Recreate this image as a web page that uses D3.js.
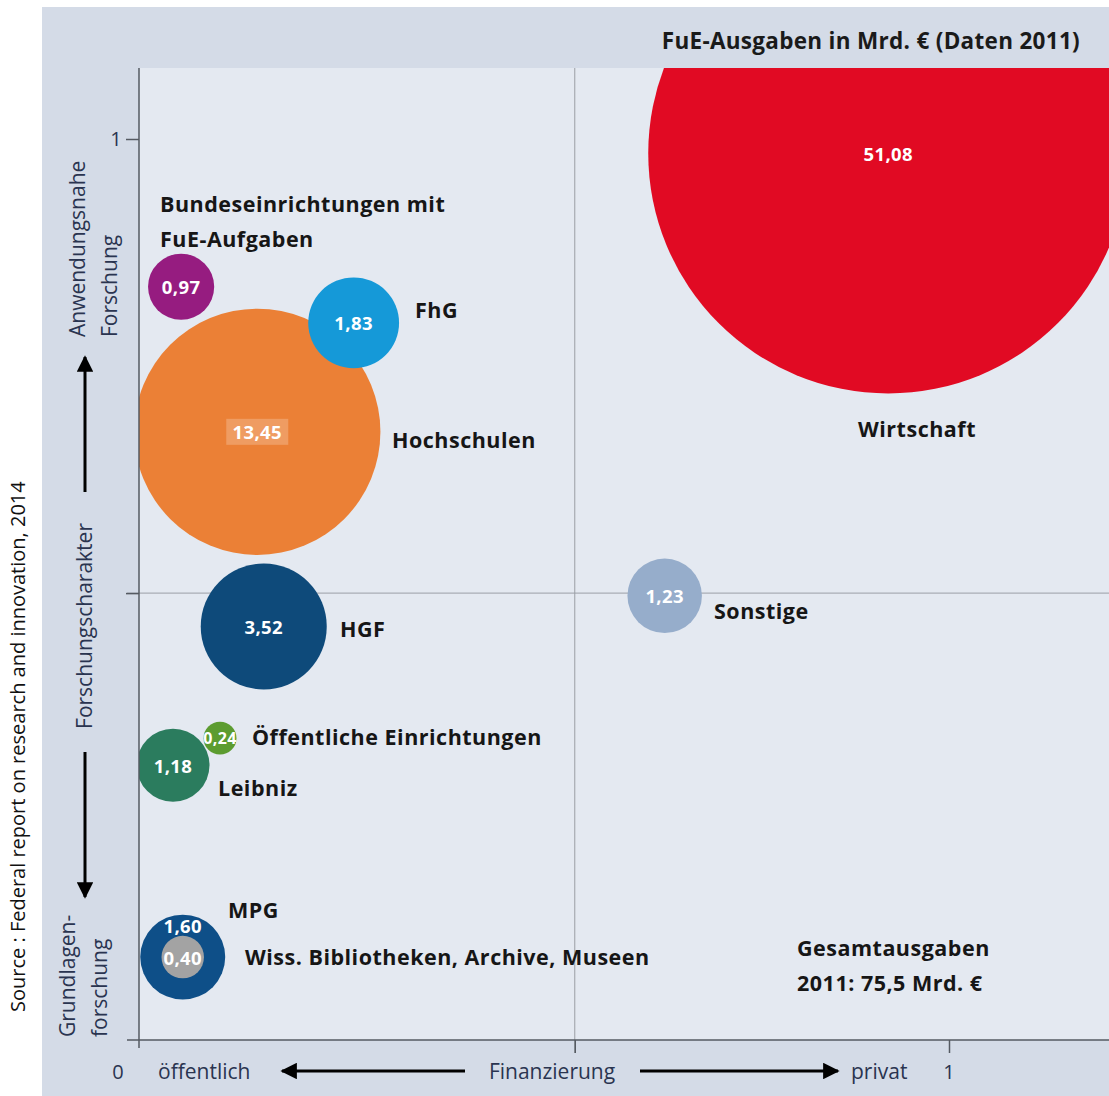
<!DOCTYPE html>
<html>
<head>
<meta charset="utf-8">
<script src="https://cdn.jsdelivr.net/npm/d3@7"></script>
<style>
  body { margin: 0; background: #fff; }
</style>
</head>
<body>
<svg id="chart"></svg>
<script>
const width = 1109;
const height = 1096;
const margin = { top: 68, right: 0, bottom: 56, left: 139 };
const font = "'Open Sans', sans-serif";

// data
const names = ["Wirtschaft", "Hochschulen", "FhG", "Bundeseinrichtungen mit FuE-Aufgaben", "HGF", "Sonstige", "Leibniz", "Öffentliche Einrichtungen", "MPG", "Wiss. Bibliotheken, Archive, Museen"];
const spending = [51.08, 13.45, 1.83, 0.97, 3.52, 1.23, 1.18, 0.24, 1.6, 0.4];
const valueLabels = ["51,08", "13,45", "1,83", "0,97", "3,52", "1,23", "1,18", "0,24", "1,60", "0,40"];
const financing = [0.925, 0.146, 0.265, 0.052, 0.154, 0.649, 0.042, 0.1, 0.054, 0.054]; // 0 = public, 1 = private
const character = [0.984, 0.675, 0.796, 0.836, 0.459, 0.493, 0.305, 0.335, 0.092, 0.092]; // 0 = basic, 1 = applied
const colors = ["#e10a23", "#eb8036", "#1599d8", "#961c80", "#0e4a7a", "#96adcb", "#2b7c5e", "#5c9c30", "#0e4f88", "#a3a3a3"];

const xTicks = [0, 1];
const yTicks = [1];
const midX = 0.538;
const midY = 0.496;

const svg = d3.select("#chart").attr("width", width).attr("height", height)
  .style("font-family", font);

const x = d3.scaleLinear().domain([0, 1]).range([margin.left, 949]);
const y = d3.scaleLinear().domain([0, 1]).range([height - margin.bottom, 139]);
const r = d3.scaleSqrt().domain([0, 51.08]).range([0, 240]);

const plotBottom = height - margin.bottom;

// panels
svg.append("rect").attr("x", 42).attr("y", 7).attr("width", width - 42).attr("height", height - 7).attr("fill", "#d4dbe7");
svg.append("rect").attr("x", margin.left).attr("y", margin.top)
  .attr("width", width - margin.left).attr("height", plotBottom - margin.top).attr("fill", "#e4e9f1");

svg.append("clipPath").attr("id", "plot-clip").append("rect")
  .attr("x", margin.left).attr("y", margin.top)
  .attr("width", width - margin.left).attr("height", plotBottom - margin.top);

// quadrant lines
svg.append("line").attr("x1", x(midX)).attr("x2", x(midX)).attr("y1", margin.top).attr("y2", plotBottom + 13)
  .attr("stroke", "#9a9ea6").attr("stroke-width", 1);
svg.append("line").attr("x1", margin.left - 12).attr("x2", width).attr("y1", y(midY)).attr("y2", y(midY))
  .attr("stroke", "#9a9ea6").attr("stroke-width", 1);

// bubbles
const data = names.map((n, i) => ({
  name: n, v: spending[i], label: valueLabels[i], fx: financing[i], fy: character[i], color: colors[i]
}));

// big ones first so small ones stay on top
const drawOrder = data.slice().sort((a, b) => b.v - a.v);
svg.append("g").attr("clip-path", "url(#plot-clip)")
  .selectAll("circle").data(drawOrder).join("circle")
  .attr("cx", d => x(d.fx)).attr("cy", d => y(d.fy)).attr("r", d => r(d.v))
  .attr("fill", d => d.color);

// lighter patch behind "13,45" as in the original
svg.append("rect").attr("x", x(0.146) - 31).attr("y", y(0.675) - 13).attr("width", 62).attr("height", 26)
  .attr("fill", "#ef9c62");

svg.append("g").selectAll("text").data(data).join("text")
  .attr("x", d => x(d.fx))
  .attr("y", d => y(d.fy) + (d.name === "MPG" ? -32 : 0))
  .attr("text-anchor", "middle").attr("dominant-baseline", "central")
  .attr("fill", "#fff").attr("font-weight", 700).attr("font-size", d => d.v < 0.3 ? 16 : 18.5)
  .attr("letter-spacing", 0.4)
  .text(d => d.label);

// axes
const xAxis = d3.axisBottom(x).tickValues(xTicks.concat([midX])).tickSize(13).tickFormat("");
const yAxis = d3.axisLeft(y).tickValues(yTicks.concat([midY])).tickSize(13).tickFormat("");
const gx = svg.append("g").attr("transform", `translate(0,${plotBottom})`).call(xAxis);
const gy = svg.append("g").attr("transform", `translate(${margin.left},0)`).call(yAxis);
gx.select(".domain").attr("d", `M${margin.left - 12},0H${width}`);
gy.select(".domain").attr("d", `M0,${margin.top}V${plotBottom + 8}`);
[gx, gy].forEach(g => {
  g.selectAll("path, line").attr("stroke", "#555a62").attr("stroke-width", 1.5);
});
gx.selectAll(".tick").filter(d => d === 0).remove();

// tick numbers
const tickTextColor = "#2a3450";
svg.append("text").attr("x", 118).attr("y", 1079).attr("text-anchor", "middle")
  .attr("font-size", 20).attr("fill", tickTextColor).text("0");
svg.append("text").attr("x", x(1)).attr("y", 1079).attr("text-anchor", "middle")
  .attr("font-size", 20).attr("fill", tickTextColor).text("1");
svg.append("text").attr("x", 116).attr("y", y(1) + 7).attr("text-anchor", "middle")
  .attr("font-size", 20).attr("fill", tickTextColor).text("1");

// arrow marker
const defs = svg.append("defs");
defs.append("marker").attr("id", "arrow").attr("viewBox", "0 0 10 10").attr("refX", 9).attr("refY", 5)
  .attr("markerWidth", 7).attr("markerHeight", 5.5).attr("orient", "auto-start-reverse")
  .attr("markerUnits", "strokeWidth")
  .append("path").attr("d", "M0,0L10,5L0,10Z").attr("fill", "#000");

// bottom axis label and arrows
const axisFont = 21;
svg.append("text").attr("x", 158).attr("y", 1079).attr("font-size", axisFont).attr("fill", tickTextColor).text("öffentlich");
svg.append("text").attr("x", 552).attr("y", 1079).attr("text-anchor", "middle").attr("font-size", axisFont)
  .attr("fill", tickTextColor).text("Finanzierung");
svg.append("text").attr("x", 851).attr("y", 1079).attr("font-size", axisFont).attr("fill", tickTextColor).text("privat");
svg.append("line").attr("x1", 465).attr("x2", 282).attr("y1", 1071).attr("y2", 1071)
  .attr("stroke", "#000").attr("stroke-width", 3).attr("marker-end", "url(#arrow)");
svg.append("line").attr("x1", 640).attr("x2", 838).attr("y1", 1071).attr("y2", 1071)
  .attr("stroke", "#000").attr("stroke-width", 3).attr("marker-end", "url(#arrow)");

// left axis labels (rotated)
function vText(xp, yp, txt, anchor) {
  svg.append("text").attr("transform", `translate(${xp},${yp}) rotate(-90)`)
    .attr("text-anchor", anchor || "start").attr("font-size", axisFont).attr("fill", tickTextColor).text(txt);
}
vText(85, 337, "Anwendungsnahe");
vText(117, 337, "Forschung");
vText(92, 626, "Forschungscharakter", "middle");
vText(75, 1037, "Grundlagen-");
vText(107, 1037, "forschung");
svg.append("line").attr("x1", 85).attr("x2", 85).attr("y1", 492).attr("y2", 357)
  .attr("stroke", "#000").attr("stroke-width", 3).attr("marker-end", "url(#arrow)");
svg.append("line").attr("x1", 85).attr("x2", 85).attr("y1", 752).attr("y2", 897)
  .attr("stroke", "#000").attr("stroke-width", 3).attr("marker-end", "url(#arrow)");

// source note
svg.append("text").attr("transform", "translate(25,1012) rotate(-90)")
  .attr("font-size", 20).attr("fill", "#111")
  .text("Source : Federal report on research and innovation, 2014");

// title
svg.append("text").attr("x", 1080).attr("y", 49).attr("text-anchor", "end")
  .attr("font-size", 22.5).attr("font-weight", 700).attr("letter-spacing", 0.3).attr("fill", "#1a1a1a")
  .text("FuE-Ausgaben in Mrd. € (Daten 2011)");

// institution names
const nameLabels = [
  { lines: ["Bundeseinrichtungen mit", "FuE-Aufgaben"], x: 160, y: 212 },
  { lines: ["FhG"], x: 415, y: 318 },
  { lines: ["Hochschulen"], x: 392, y: 448 },
  { lines: ["Wirtschaft"], x: 858, y: 437 },
  { lines: ["Sonstige"], x: 714, y: 619 },
  { lines: ["HGF"], x: 340, y: 637 },
  { lines: ["Öffentliche Einrichtungen"], x: 252, y: 745 },
  { lines: ["Leibniz"], x: 218, y: 796 },
  { lines: ["MPG"], x: 228, y: 918 },
  { lines: ["Wiss. Bibliotheken, Archive, Museen"], x: 245, y: 965 },
  { lines: ["Gesamtausgaben", "2011: 75,5 Mrd. €"], x: 797, y: 956 }
];
nameLabels.forEach(l => {
  const t = svg.append("text").attr("x", l.x).attr("y", l.y)
    .attr("font-size", 21.5).attr("font-weight", 700).attr("letter-spacing", 0.5).attr("fill", "#161616");
  l.lines.forEach((s, i) => t.append("tspan").attr("x", l.x).attr("dy", i === 0 ? 0 : 35).text(s));
});
</script>
</body>
</html>
